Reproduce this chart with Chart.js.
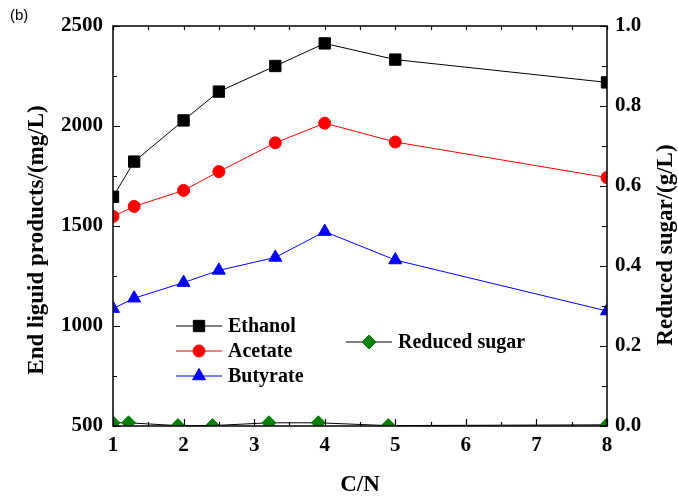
<!DOCTYPE html>
<html>
<head>
<meta charset="utf-8">
<script src="https://cdn.jsdelivr.net/npm/chart.js@4.4.1/dist/chart.umd.min.js"></script>
<style>
	html, body { margin: 0; padding: 0; background: #fff; }
</style>
</head>
<body>
<canvas id="chart" width="678" height="497"></canvas>
<script>
// C/N ratios and measured values
const cn = [1, 1.3, 2, 2.5, 3.3, 4, 5, 8];
const ethanol = [1646, 1822, 2028, 2172, 2300, 2413, 2332, 2218];
const acetate = [1548, 1598, 1678, 1772, 1916, 2014, 1920, 1742];
const butyrate = [1087, 1139, 1217, 1278, 1343, 1472, 1330, 1075];
const sugarCn = [1, 1.22, 1.92, 2.41, 3.21, 3.91, 4.9, 8];
const sugar = [0.008, 0.008, 0.001, 0.001, 0.008, 0.008, 0.001, 0.003];
const xTicks = [1, 2, 3, 4, 5, 6, 7, 8];
const leftTitle = "End liguid products/(mg/L)";
const rightTitle = "Reduced sugar/(g/L)";

const serif = "'Liberation Serif', 'Times New Roman', serif";

function pts(xs, ys) {
	return xs.map((x, i) => ({ x: x, y: ys[i] }));
}

// inward ticks on all four sides, frame, legend, side titles and panel label
const framePlugin = {
	id: "framePlugin",
	afterDatasetsDraw(chart) {
		const ctx = chart.ctx;
		const a = chart.chartArea;
		const sx = chart.scales.x, sy = chart.scales.y, sr = chart.scales.y1;
		ctx.save();
		ctx.strokeStyle = "#000";
		ctx.lineWidth = 1.2;
		ctx.beginPath();
		for (let v = 1; v <= 8; v += 0.5) {
			const px = Math.round(sx.getPixelForValue(v)) + 0.5;
			const major = v % 1 == 0;
			ctx.moveTo(px, a.bottom);
			ctx.lineTo(px, a.bottom - (major ? 7 : 4));
			ctx.moveTo(px, a.top);
			ctx.lineTo(px, a.top + 4);
		}
		for (let v = 500; v <= 2500; v += 250) {
			const py = Math.round(sy.getPixelForValue(v)) + 0.5;
			ctx.moveTo(a.left, py);
			ctx.lineTo(a.left + (v % 500 == 0 ? 7 : 4), py);
		}
		for (let i = 0; i <= 10; i++) {
			const py = Math.round(sr.getPixelForValue(i / 10)) + 0.5;
			ctx.moveTo(a.right, py);
			ctx.lineTo(a.right - (i % 2 == 0 ? 7 : 5), py);
		}
		ctx.stroke();
		ctx.lineWidth = 1.5;
		ctx.strokeRect(a.left, a.top, a.right - a.left, a.bottom - a.top);
		ctx.restore();
	},
	afterDraw(chart) {
		const ctx = chart.ctx;
		const items = [
			{ ds: 0, x: 176, y: 326 },
			{ ds: 1, x: 176, y: 351 },
			{ ds: 2, x: 176, y: 376 },
			{ ds: 3, x: 346, y: 342 },
		];
		ctx.save();
		for (const it of items) {
			const d = chart.data.datasets[it.ds];
			ctx.strokeStyle = d.borderColor;
			ctx.lineWidth = 1;
			ctx.beginPath();
			ctx.moveTo(it.x, it.y);
			ctx.lineTo(it.x + 46, it.y);
			ctx.stroke();
			ctx.fillStyle = d.pointBackgroundColor;
			ctx.strokeStyle = d.pointBorderColor;
			Chart.helpers.drawPoint(ctx, {
				pointStyle: d.pointStyle,
				radius: d.pointRadius,
				rotation: 0,
				borderWidth: 1,
			}, it.x + 23, it.y);
			ctx.fillStyle = "#000";
			ctx.font = "bold 20px " + serif;
			ctx.textBaseline = "middle";
			ctx.textAlign = "left";
			ctx.fillText(d.label, it.x + 52, it.y + 1);
		}
		// vertical axis titles, both reading bottom to top
		ctx.font = "bold 23px " + serif;
		ctx.textAlign = "center";
		ctx.textBaseline = "middle";
		ctx.save();
		ctx.translate(37, 240);
		ctx.rotate(-Math.PI / 2);
		ctx.fillText(leftTitle, 0, 0);
		ctx.restore();
		ctx.save();
		ctx.translate(666, 245);
		ctx.rotate(-Math.PI / 2);
		ctx.fillText(rightTitle, 0, 0);
		ctx.restore();
		ctx.textAlign = "left";
		ctx.font = "15px 'Liberation Sans', Arial, sans-serif";
		ctx.fillText("(b)", 10, 16);
		ctx.restore();
	},
};

const tickFont = { family: serif, size: 21, weight: "bold" };
const titleFont = { family: serif, size: 23, weight: "bold", lineHeight: 1 };

new Chart(document.getElementById("chart"), {
	type: "line",
	data: {
		datasets: [
			{
				label: "Ethanol",
				data: pts(cn, ethanol),
				yAxisID: "y",
				borderColor: "#000",
				pointBackgroundColor: "#000",
				pointBorderColor: "#000",
				pointStyle: "rect",
				pointRadius: 8,
				borderWidth: 1,
			},
			{
				label: "Acetate",
				data: pts(cn, acetate),
				yAxisID: "y",
				borderColor: "#ff0000",
				pointBackgroundColor: "#ff0000",
				pointBorderColor: "#ff0000",
				pointStyle: "circle",
				pointRadius: 6,
				borderWidth: 1,
			},
			{
				label: "Butyrate",
				data: pts(cn, butyrate),
				yAxisID: "y",
				borderColor: "#0000ff",
				pointBackgroundColor: "#0000ff",
				pointBorderColor: "#0000ff",
				pointStyle: "triangle",
				pointRadius: 7.5,
				borderWidth: 1,
			},
			{
				label: "Reduced sugar",
				data: pts(sugarCn, sugar),
				yAxisID: "y1",
				borderColor: "#000",
				pointBackgroundColor: "#008000",
				pointBorderColor: "#008000",
				pointStyle: "rectRot",
				pointRadius: 7,
				borderWidth: 1,
			},
		],
	},
	options: {
		responsive: false,
		animation: false,
		layout: { padding: { top: 26, left: 0, right: 0, bottom: 0 } },
		plugins: { legend: { display: false }, tooltip: { enabled: false } },
		scales: {
			x: {
				type: "linear",
				position: "bottom",
				min: 1,
				max: 8,
				grid: { display: false, drawTicks: false },
				border: { display: false },
				afterBuildTicks: (s) => { s.ticks = xTicks.map((v) => ({ value: v })); },
				ticks: { color: "#000", font: tickFont, padding: 7, autoSkip: false, maxRotation: 0, callback: (v) => String(v) },
				title: { display: true, text: "C/N", color: "#000", font: titleFont, padding: { top: 3, bottom: 0 } },
				afterFit: (s) => { s.height = 71; },
			},
			y: {
				type: "linear",
				position: "left",
				min: 500,
				max: 2500,
				grid: { display: false, drawTicks: false },
				border: { display: false },
				ticks: { stepSize: 500, color: "#000", font: tickFont, padding: 10, callback: (v) => String(v) },
				afterFit: (s) => { s.width = 113; },
			},
			y1: {
				type: "linear",
				position: "right",
				min: 0,
				max: 1,
				grid: { display: false, drawTicks: false },
				border: { display: false },
				ticks: { stepSize: 0.2, color: "#000", font: tickFont, padding: 8, callback: (v) => v.toFixed(1) },
				afterFit: (s) => { s.width = 71; },
			},
		},
	},
	plugins: [framePlugin],
});
</script>
</body>
</html>
